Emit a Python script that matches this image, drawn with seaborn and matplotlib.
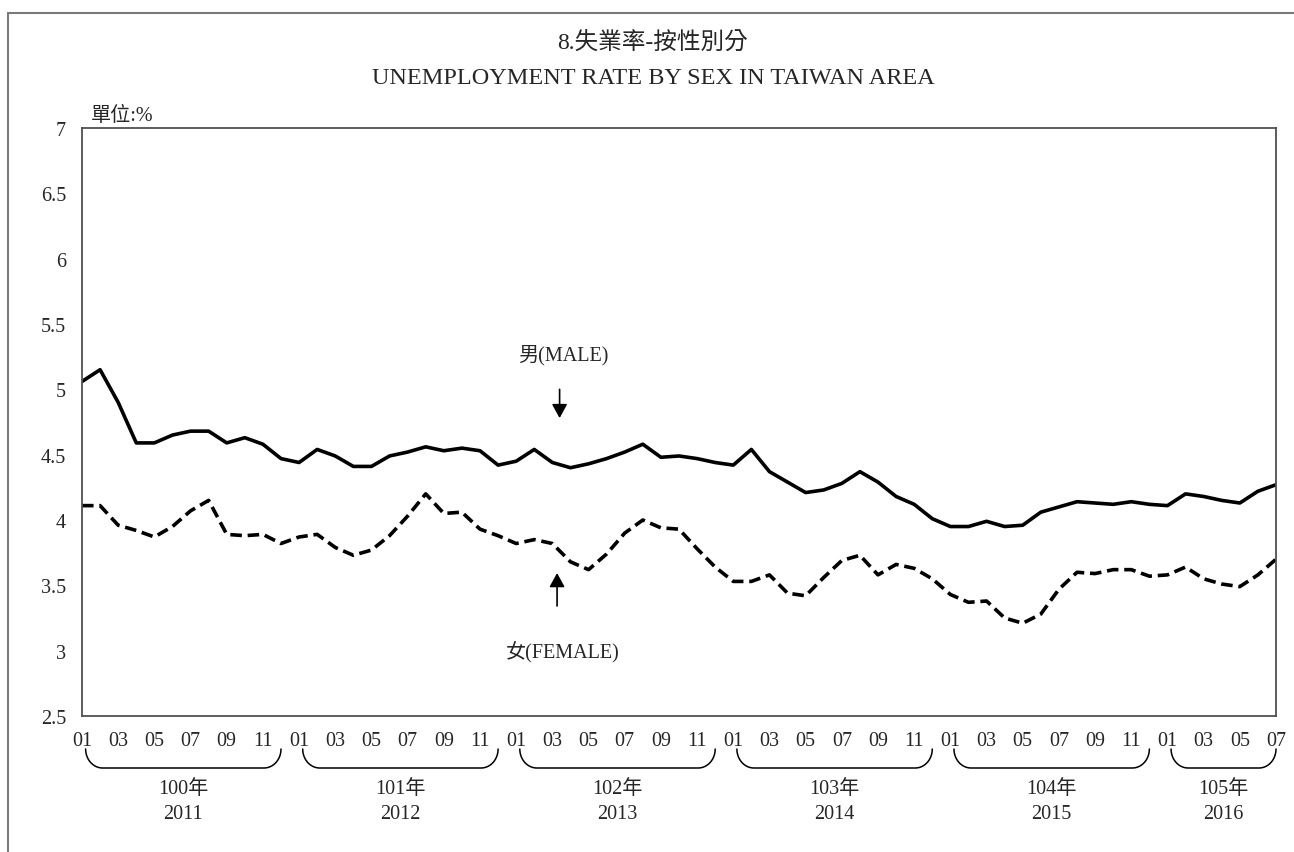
import numpy as np
import pandas as pd
import matplotlib
matplotlib.use("Agg")
import matplotlib.pyplot as plt
from matplotlib.lines import Line2D
from matplotlib.patches import ArrowStyle
import seaborn as sns

# ---------------- data ----------------
years_roc = ["100年", "101年", "102年", "103年", "104年", "105年"]
years_ad = ["2011", "2012", "2013", "2014", "2015", "2016"]
months_per_year = [12, 12, 12, 12, 12, 7]

male = [5.06, 5.15, 4.90, 4.59, 4.59, 4.65, 4.68, 4.68, 4.59, 4.63, 4.58, 4.47,
        4.44, 4.54, 4.49, 4.41, 4.41, 4.49, 4.52, 4.56, 4.53, 4.55, 4.53, 4.42,
        4.45, 4.54, 4.44, 4.40, 4.43, 4.47, 4.52, 4.58, 4.48, 4.49, 4.47, 4.44,
        4.42, 4.54, 4.37, 4.29, 4.21, 4.23, 4.28, 4.37, 4.29, 4.18, 4.12, 4.01,
        3.95, 3.95, 3.99, 3.95, 3.96, 4.06, 4.10, 4.14, 4.13, 4.12, 4.14, 4.12,
        4.11, 4.20, 4.18, 4.15, 4.13, 4.22, 4.27]
female = [4.11, 4.11, 3.96, 3.92, 3.87, 3.95, 4.07, 4.15, 3.89, 3.88, 3.89, 3.82,
          3.87, 3.89, 3.79, 3.73, 3.77, 3.88, 4.03, 4.20, 4.05, 4.06, 3.93, 3.88,
          3.82, 3.85, 3.82, 3.68, 3.62, 3.74, 3.90, 4.00, 3.94, 3.93, 3.78, 3.64,
          3.53, 3.53, 3.58, 3.44, 3.42, 3.56, 3.69, 3.73, 3.58, 3.66, 3.63, 3.55,
          3.43, 3.37, 3.38, 3.25, 3.21, 3.28, 3.47, 3.60, 3.59, 3.62, 3.62, 3.57,
          3.58, 3.64, 3.55, 3.51, 3.49, 3.58, 3.70]
y_ticks = [2.5, 3, 3.5, 4, 4.5, 5, 5.5, 6, 6.5, 7]
y_ticklabels = ["2.5", "3", "3.5", "4", "4.5", "5", "5.5", "6", "6.5", "7"]

month_labels = []
for n in months_per_year:
    for m in range(1, n + 1):
        month_labels.append(f"{m:02d}")

n = len(male)
df = pd.DataFrame({
    "idx": list(range(n)) * 2,
    "rate": male + female,
    "sex": ["男"] * n + ["女"] * n,
})

# ---------------- style ----------------
sns.set_style("white")
FONT = ["Liberation Serif", "Noto Sans CJK TC", "DejaVu Sans"]
plt.rcParams["font.family"] = FONT

W, H = 1294, 853
fig = plt.figure(figsize=(W / 100, H / 100), dpi=100)
ax_l, ax_r, ax_t, ax_b = 82, 1276, 129, 717
ax = fig.add_axes([ax_l / W, 1 - ax_b / H, (ax_r - ax_l) / W, (ax_b - ax_t) / H])

sns.lineplot(data=df, x="idx", y="rate", style="sex",
             dashes={"男": "", "女": (3.2, 1.6)}, color="black",
             linewidth=2.6, legend=False, ax=ax)

ax.set_xlim(0, n - 1)
ax.set_ylim(2.5, 7)
ax.set_xlabel("")
ax.set_ylabel("")

spine_c = "#505050"
for s in ax.spines.values():
    s.set_visible(True)
    s.set_color(spine_c)
    s.set_linewidth(1.3)

ax.set_yticks(y_ticks)
ax.set_yticklabels(y_ticklabels)
ax.set_xticks(range(n))
ax.set_xticklabels([lab if i % 2 == 0 else "" for i, lab in enumerate(month_labels)])
ax.tick_params(axis="y", direction="in", length=4.5, width=1.1, color=spine_c,
               pad=11.5, labelsize=14.5)
ax.tick_params(axis="x", direction="in", length=4, width=1.1, color=spine_c,
               pad=11, labelsize=14.5)

# ---------------- titles ----------------
fig.text(653 / W, 1 - 44 / H, "8.失業率-按性別分", ha="center", va="center", fontsize=17)
fig.text(653 / W, 1 - 78 / H, "UNEMPLOYMENT RATE BY SEX IN TAIWAN AREA",
         ha="center", va="center", fontsize=17.5)
fig.text(91 / W, 1 - 116 / H, "單位:%", ha="left", va="center", fontsize=14.5)

# ---------------- annotations ----------------
astyle = ArrowStyle("-|>", head_length=0.6, head_width=0.33)
ax.annotate("", xy=(26.4, 4.78), xytext=(26.4, 5.0),
            arrowprops=dict(arrowstyle=astyle, mutation_scale=14, color="black",
                            lw=1.2, shrinkA=0, shrinkB=0))
ax.text(26.6, 5.27, "男(MALE)", ha="center", va="center", fontsize=14.5)
ax.annotate("", xy=(26.26, 3.594), xytext=(26.26, 3.342),
            arrowprops=dict(arrowstyle=astyle, mutation_scale=14, color="black",
                            lw=1.2, shrinkA=0, shrinkB=0))
ax.text(26.56, 3.0, "女(FEMALE)", ha="center", va="center", fontsize=14.5)

# ---------------- year braces ----------------
fig.canvas.draw()
def xpix(v):
    return ax.transData.transform((v, 0))[0]

yt, yb = 750, 769
rx, ry = 17, yb - yt
t = np.linspace(0, np.pi / 2, 20)
start = 0
for k, m in enumerate(months_per_year):
    x0 = xpix(start + 0.2)
    x1 = xpix(start + 11) if m >= 12 else xpix(start + m - 1)
    lx = x0 + rx - rx * np.cos(t)
    ly = yt + ry * np.sin(t)
    rxs = x1 - rx + rx * np.cos(t[::-1])
    rys = yt + ry * np.sin(t[::-1])
    px = np.concatenate([lx, rxs])
    py = np.concatenate([ly, rys])
    fig.add_artist(Line2D(px / W, 1 - py / H, transform=fig.transFigure,
                          color="black", lw=1.1))
    cx = (x0 + x1) / 2
    fig.text(cx / W, 1 - 790 / H, years_roc[k], ha="center", va="center", fontsize=14.5)
    fig.text(cx / W, 1 - 815 / H, years_ad[k], ha="center", va="center", fontsize=14.5)
    start += m

# ---------------- outer border ----------------
fig.add_artist(Line2D([8 / W, 1.0], [1 - 14 / H, 1 - 14 / H], transform=fig.transFigure,
                      color="#7a7a7a", lw=1.5))
fig.add_artist(Line2D([8 / W, 8 / W], [1 - 14 / H, 0.0], transform=fig.transFigure,
                      color="#7a7a7a", lw=1.5))

fig.savefig("out.png", dpi=100)
